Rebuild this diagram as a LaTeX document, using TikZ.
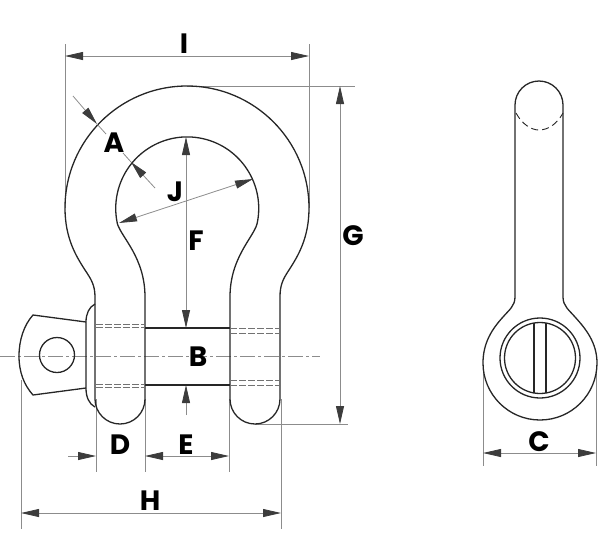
\documentclass[tikz,border=0pt]{standalone}
\usepackage{fontspec}
\setmainfont{Poppins}
\usetikzlibrary{arrows.meta}

\definecolor{inkc}{HTML}{262626}
\definecolor{dimc}{HTML}{8C8C8C}
\tikzset{
  outline/.style={draw=inkc, line width=1.3pt},
  thinhid/.style={draw=inkc!65, line width=0.7pt, dash pattern=on 7pt off 2pt},
  dimline/.style={draw=dimc, line width=0.8pt, arrows={-}},
  dimarrow/.style={draw=dimc, line width=0.8pt, {Triangle[length=18pt,width=8pt,color=inkc!90]}-{Triangle[length=18pt,width=8pt,color=inkc!90]}},
  onearrow/.style={draw=dimc, line width=0.8pt, -{Triangle[length=18pt,width=8pt,color=inkc!90]}},
  centre/.style={draw=dimc, line width=0.8pt, dash pattern=on 15pt off 3pt on 3pt off 3pt},
  dimlabel/.style={text=black, inner sep=0pt, font=\fontsize{28}{28}\selectfont\bfseries},
}

\begin{document}
\begin{tikzpicture}[x=1pt,y=-1pt]
\useasboundingbox (0,0) rectangle (600,542);

% centre line
\coordinate (CLa) at (0,356);
\coordinate (CLb) at (320,356);
\draw[centre] (CLa) -- (CLb);

% extension lines
\coordinate (Ia) at (65,56);
\coordinate (Ib) at (309,56);
\coordinate (Ga) at (340,86);
\coordinate (Gb) at (340,424);
\coordinate (Fa) at (186,137);
\coordinate (Fb) at (186,328);
\coordinate (Ba) at (186,385);
\coordinate (Bb) at (186,415);
\coordinate (Ha) at (21,513);
\coordinate (Hb) at (281,513);
\coordinate (Da) at (68,456);
\coordinate (Db) at (96,456);
\coordinate (Ea) at (145,456);
\coordinate (Eb) at (229,456);
\coordinate (Ca) at (483,453);
\coordinate (Cb) at (596,453);
\draw[dimline] (65,44) -- (65,208);
\draw[dimline] (309,44) -- (309,208);
\draw[dimline] (187,86) -- (355,86);
\draw[dimline] (255,424) -- (348,424);
\draw[dimline] (21,380) -- (21,529);
\draw[dimline] (281,399) -- (281,529);
\draw[dimline] (96,399) -- (96,472);
\draw[dimline] (145,399) -- (145,472);
\draw[dimline] (229,399) -- (229,472);
\draw[dimline] (483,372) -- (483,466);
\draw[dimline] (596,372) -- (596,466);

% shackle body
\draw[outline] (65,208) arc[start angle=180,end angle=360,radius=122]
  .. controls (309,238) and (298,256) .. (289,270)
  .. controls (283,279) and (280,285) .. (280,297) -- (280,399)
  arc[start angle=0,end angle=180,radius=25] -- (230,297)
  .. controls (230,258) and (253,238) .. (257,224)
  arc[start angle=12.6,end angle=-192.6,radius=71.5]
  .. controls (122,238) and (145,258) .. (145,297) -- (145,399)
  arc[start angle=0,end angle=180,radius=25] -- (95,297)
  .. controls (95,285) and (91,279) .. (85,270)
  .. controls (76,256) and (65,238) .. (65,208);

% pin
\draw[outline] (145,328) -- (230,328);
\draw[outline] (145,385) -- (230,385);
\draw[thinhid] (96,324) -- (145,324);
\draw[thinhid] (96,327) -- (145,327);
\draw[thinhid] (96,384) -- (145,384);
\draw[thinhid] (96,387) -- (145,387);
\draw[thinhid] (230,328) -- (280,328);
\draw[thinhid] (230,333) -- (280,333);
\draw[thinhid] (230,380) -- (280,380);
\draw[thinhid] (230,385) -- (280,385);
\draw[outline] (95,304) .. controls (89,307) and (86,314) .. (86,322) -- (86,388)
  .. controls (86,397) and (89,404) .. (95,407);
\draw[outline] (86,322) -- (33,315) .. controls (24,325) and (19,340) .. (19,356)
  .. controls (19,372) and (24,385) .. (33,395) -- (86,388);
\draw[outline] (57,355) circle[radius=17.5];

% side view
\draw[outline] (515,297) -- (515,105) arc[start angle=180,end angle=360,radius=24] -- (563,297)
  .. controls (563,306) and (569,310) .. (575,317)
  .. controls (586,329) and (597,343) .. (597,363)
  arc[start angle=0,end angle=180,radius=57]
  .. controls (483,343) and (492,329) .. (503,317)
  .. controls (509,310) and (515,306) .. (515,297);
\draw[draw=inkc, line width=0.9pt, dash pattern=on 7pt off 4pt] (516,113) .. controls (522,124) and (531,130) .. (539,130)
  .. controls (548,130) and (557,124) .. (563,113);
\draw[outline] (540,358) circle[radius=40];
\draw[outline] (540,358) circle[radius=35.5];
\draw[outline] (534,323) -- (534,393);
\draw[outline] (546,323) -- (546,393);

% dimensions
\draw[dimarrow] (Ia) -- (Ib);
\draw[dimarrow] (Ga) -- (Gb);
\draw[dimarrow] (Fa) -- (Fb);
\draw[onearrow] (Bb) -- (Ba);
\draw[dimarrow] (Ha) -- (Hb);
\draw[onearrow] (Da) -- (Db);
\draw[dimarrow] (Ea) -- (Eb);
\draw[dimarrow] (Ca) -- (Cb);
\coordinate (Ja) at (119,223);
\coordinate (Jb) at (253,179);
\draw[dimarrow] (Ja) -- (Jb);
\coordinate (Aa) at (73,96);
\coordinate (Ab) at (97,124);
\coordinate (Ac) at (155,188);
\coordinate (Ad) at (131,162);
\draw[onearrow] (Aa) -- (Ab);
\draw[dimline] (Ab) -- (106,134);
\draw[onearrow] (Ac) -- (Ad);
\draw[dimline] (Ad) -- (123,153);

% labels
\node[dimlabel] (labelI) at (184,44) {I};
\node[dimlabel] (labelA) at (114,143) {A};
\node[dimlabel] (labelJ) at (175,192) {J};
\node[dimlabel] (labelF) at (196,241) {F};
\node[dimlabel] (labelG) at (353,236) {G};
\node[dimlabel] (labelB) at (198,357) {B};
\node[dimlabel] (labelD) at (120,445) {D};
\node[dimlabel] (labelE) at (186,445) {E};
\node[dimlabel] (labelH) at (150,501) {H};
\node[dimlabel] (labelC) at (539,442) {C};
\end{tikzpicture}
\end{document}
